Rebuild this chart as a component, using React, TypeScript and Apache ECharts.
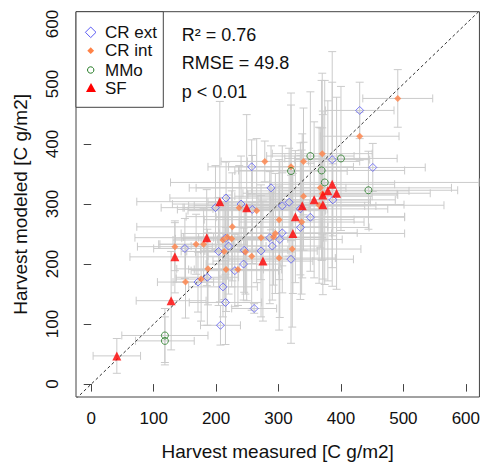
import React, { useEffect, useRef } from 'react';
import * as echarts from 'echarts';

// axis ranges and ticks
const xRange = [-24.4, 621.8];
const yRange = [-21.5, 620.5];
const tickValues = [0, 100, 200, 300, 400, 500, 600];

// [measured, modeled, measured error, modeled error]
const crExt: number[][] = [
  [430, 456, 55, 47], [386, 374, 60, 180], [257, 362, 70, 45], [451, 361, 84, 40],
  [288, 327, 120, 70], [216, 310, 90, 60], [387, 307, 100, 60], [240, 300, 110, 80],
  [317, 303, 130, 90], [306, 297, 150, 100], [199, 294, 87, 70], [258, 291, 120, 90],
  [335, 292, 140, 110], [351, 278, 151, 90], [335, 261, 110, 120], [306, 252, 120, 100],
  [286, 244, 90, 110], [302, 241, 100, 130], [290, 230, 80, 90], [215, 243, 70, 60],
  [220, 230, 60, 80], [150, 226, 50, 50], [204, 221, 60, 90], [245, 223, 70, 70],
  [272, 222, 90, 110], [320, 208, 100, 140], [244, 200, 60, 60], [230, 189, 70, 60],
  [186, 178, 50, 80], [171, 170, 40, 50], [211, 162, 55, 50], [215, 136, 58, 70],
  [261, 126, 36, 8], [207, 98, 32, 33]
];
const crInt: number[][] = [
  [491, 476, 56, 48], [430, 413, 63, 40], [370, 384, 80, 134], [278, 371, 70, 34],
  [320, 362, 100, 123], [340, 371, 90, 89], [367, 327, 210, 100], [340, 313, 110, 90],
  [370, 317, 120, 110], [365, 298, 200, 130], [237, 294, 90, 70], [265, 289, 110, 120],
  [301, 274, 120, 100], [337, 270, 100, 120], [226, 262, 153, 90], [295, 251, 90, 100],
  [292, 245, 80, 80], [272, 244, 100, 70], [211, 240, 80, 60], [218, 245, 70, 70],
  [225, 242, 90, 80], [168, 233, 60, 50], [180, 233, 70, 60], [134, 229, 60, 40],
  [213, 221, 60, 80], [247, 220, 80, 70], [257, 213, 70, 90], [322, 225, 110, 130],
  [301, 210, 90, 120], [216, 191, 60, 70], [235, 191, 70, 60], [187, 192, 50, 60],
  [176, 175, 40, 70], [151, 170, 45, 60]
];
const mmo: number[][] = [
  [351, 380, 70, 107], [400, 376, 90, 120], [320, 355, 90, 110], [369, 356, 133, 150],
  [374, 336, 247, 170], [444, 323, 143, 65], [118, 81, 69, 45], [118, 72, 47, 40]
];
const sf: number[][] = [
  [386, 333, 100, 170], [379, 322, 130, 150], [393, 318, 150, 160], [371, 315, 120, 140],
  [357, 307, 90, 130], [371, 299, 130, 150], [338, 297, 100, 120], [206, 304, 133, 167],
  [249, 294, 100, 155], [327, 279, 175, 110], [323, 251, 179, 100], [185, 244, 115, 80],
  [134, 212, 72, 60], [275, 205, 80, 100], [128, 139, 56, 82], [41, 47, 38, 29]
];

const statLines = ['R\u00b2 = 0.76', 'RMSE = 49.8', 'p < 0.01'];
const legendNames = ['CR ext', 'CR int', 'MMo', 'SF'];

const FONT = '"Liberation Sans", Arial, sans-serif';
const BLUE = '#5b5bf5';
const ORANGE = '#ff8247';
const GREEN = '#237a23';
const RED = '#ff0000';
const BAR = '#cbcbcb';

export default function App() {
  const ref = useRef<HTMLDivElement>(null);
  useEffect(() => {
    const chart = echarts.init(ref.current!, null, { renderer: 'svg' });
    const allErr = [...crExt, ...crInt, ...mmo, ...sf];
    const cap = 4;
    const option: any = {
      animation: false,
      backgroundColor: '#fff',
      grid: { left: 76, top: 11.7, right: 2, bottom: 65.5, show: true, borderColor: '#444', borderWidth: 1 },
      xAxis: {
        type: 'value', min: xRange[0], max: xRange[1],
        axisLine: { show: false },
        axisTick: { show: true, length: 7.5, inside: false, customValues: tickValues, lineStyle: { color: '#444' } },
        axisLabel: { customValues: tickValues, fontSize: 17, color: '#111', fontFamily: FONT, margin: 13 },
        splitLine: { show: false },
        name: 'Harvest measured [C g/m2]', nameLocation: 'middle', nameGap: 45,
        nameTextStyle: { fontSize: 19, color: '#111', fontFamily: FONT }
      },
      yAxis: {
        type: 'value', min: yRange[0], max: yRange[1],
        axisLine: { show: false },
        axisTick: { show: true, length: 7.5, inside: false, customValues: tickValues, lineStyle: { color: '#444' } },
        axisLabel: { customValues: tickValues, fontSize: 17, color: '#111', fontFamily: FONT, margin: 15, rotate: 90 },
        splitLine: { show: false },
        name: 'Harvest modeled [C g/m2]', nameLocation: 'middle', nameGap: 46,
        nameTextStyle: { fontSize: 19, color: '#111', fontFamily: FONT }
      },
      series: [
        {
          type: 'custom', z: 1, clip: true,
          data: allErr,
          encode: { x: 0, y: 1 },
          renderItem: (params: any, api: any) => {
            const x = api.value(0), y = api.value(1), xe = api.value(2), ye = api.value(3);
            const l = api.coord([x - xe, y]);
            const r = api.coord([x + xe, y]);
            const t = api.coord([x, y + ye]);
            const b = api.coord([x, y - ye]);
            const st = { stroke: BAR, lineWidth: 1 };
            const ln = (x1: number, y1: number, x2: number, y2: number) => ({ type: 'line', shape: { x1, y1, x2, y2 }, style: st });
            return {
              type: 'group',
              children: [
                ln(l[0], l[1], r[0], r[1]),
                ln(l[0], l[1] - cap, l[0], l[1] + cap),
                ln(r[0], r[1] - cap, r[0], r[1] + cap),
                ln(t[0], t[1], b[0], b[1]),
                ln(t[0] - cap, t[1], t[0] + cap, t[1]),
                ln(b[0] - cap, b[1], b[0] + cap, b[1])
              ]
            };
          }
        },
        {
          type: 'line', z: 2, symbol: 'none', clip: true,
          data: [[xRange[0], xRange[0]], [yRange[1], yRange[1]]],
          lineStyle: { color: '#333', width: 1, type: [3, 2.5] }
        },
        {
          name: legendNames[0], type: 'scatter', z: 3, symbol: 'diamond', symbolSize: 8,
          data: crExt.map(d => [d[0], d[1]]),
          itemStyle: { color: 'rgba(255,255,255,0)', borderColor: BLUE, borderWidth: 1 }
        },
        {
          name: legendNames[1], type: 'scatter', z: 4, symbol: 'diamond', symbolSize: 7,
          data: crInt.map(d => [d[0], d[1]]),
          itemStyle: { color: ORANGE }
        },
        {
          name: legendNames[2], type: 'scatter', z: 5, symbol: 'circle', symbolSize: 7,
          data: mmo.map(d => [d[0], d[1]]),
          itemStyle: { color: 'rgba(255,255,255,0)', borderColor: GREEN, borderWidth: 1 }
        },
        {
          name: legendNames[3], type: 'scatter', z: 6, symbol: 'triangle', symbolSize: 9,
          data: sf.map(d => [d[0], d[1]]),
          itemStyle: { color: RED }
        }
      ],
      graphic: [
        { type: 'rect', z: 100, shape: { x: 76, y: 11.7, width: 87.3, height: 95.6 }, style: { fill: '#fff', stroke: '#444', lineWidth: 1 } },
        { type: 'polygon', z: 101, shape: { points: [[90.7, 27], [96, 32.3], [90.7, 37.6], [85.4, 32.3]] }, style: { fill: 'none', stroke: BLUE, lineWidth: 1 } },
        { type: 'polygon', z: 101, shape: { points: [[90.7, 47.3], [94.1, 50.7], [90.7, 54.1], [87.3, 50.7]] }, style: { fill: ORANGE } },
        { type: 'circle', z: 101, shape: { cx: 90.7, cy: 70, r: 3.2 }, style: { fill: 'none', stroke: GREEN, lineWidth: 1 } },
        { type: 'polygon', z: 101, shape: { points: [[91, 83], [96, 92], [86, 92]] }, style: { fill: RED } },
        ...legendNames.map((n, i) => ({
          type: 'text', z: 101, x: 105, y: [32.3, 50.7, 70, 88.3][i],
          style: { text: n, fontSize: 17, fontFamily: FONT, fill: '#111', verticalAlign: 'middle', align: 'left' }
        })),
        ...statLines.map((s, i) => ({
          type: 'text', z: 101, x: 181.7, y: [35, 63.3, 91.7][i],
          style: { text: s, fontSize: 18, fontFamily: FONT, fill: '#111', verticalAlign: 'middle', align: 'left' }
        }))
      ]
    };
    chart.setOption(option);
    return () => chart.dispose();
  }, []);
  return <div ref={ref} style={{ position: 'absolute', left: 0, top: 0, width: 483, height: 466 }} />;
}
